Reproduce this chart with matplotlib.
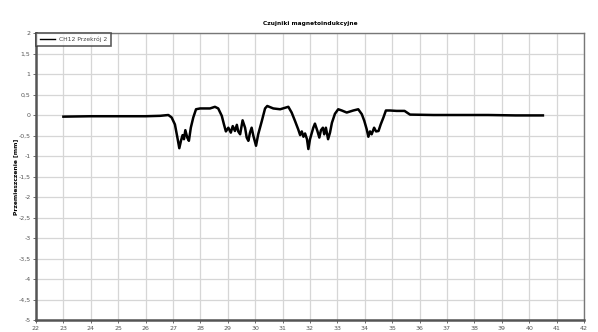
import matplotlib
matplotlib.use("Agg")
import matplotlib.pyplot as plt
import numpy as np

# odczyt z wykresu: czas [s] i przemieszczenie [mm]
czas = [23.0, 24.0, 25.0, 26.0, 26.53, 26.83, 26.95, 27.07, 27.16, 27.23, 27.29,
        27.35, 27.40, 27.45, 27.52, 27.58, 27.65, 27.74, 27.84, 27.99, 28.35,
        28.53, 28.65, 28.78, 28.86, 28.93, 29.02, 29.11, 29.18, 29.26, 29.33,
        29.38, 29.45, 29.54, 29.63, 29.69, 29.75, 29.81, 29.87, 29.93, 30.03,
        30.11, 30.24, 30.36, 30.44, 30.66, 30.91, 31.21, 31.33, 31.45, 31.57,
        31.64, 31.70, 31.76, 31.82, 31.89, 31.94, 32.00, 32.06, 32.12, 32.18,
        32.27, 32.34, 32.40, 32.47, 32.52, 32.58, 32.66, 32.73, 32.80, 32.91,
        33.03, 33.16, 33.34, 33.58, 33.76, 33.89, 33.98, 34.07, 34.13, 34.19,
        34.25, 34.34, 34.41, 34.50, 34.58, 34.68, 34.77, 34.92, 35.16, 35.45,
        35.65, 36.5, 37.5, 38.5, 39.5, 40.5]
przem = [-0.04, -0.03, -0.03, -0.03, -0.02, 0.0, -0.06, -0.23, -0.55, -0.81, -0.63,
         -0.49, -0.59, -0.37, -0.55, -0.63, -0.31, -0.06, 0.14, 0.16, 0.16,
         0.20, 0.16, -0.02, -0.23, -0.40, -0.31, -0.43, -0.27, -0.39, -0.24,
         -0.40, -0.47, -0.13, -0.31, -0.55, -0.63, -0.43, -0.31, -0.50, -0.75,
         -0.47, -0.15, 0.16, 0.22, 0.16, 0.14, 0.20, 0.06, -0.14, -0.35,
         -0.49, -0.40, -0.53, -0.45, -0.59, -0.83, -0.59, -0.45, -0.31, -0.21,
         -0.39, -0.55, -0.37, -0.31, -0.47, -0.31, -0.59, -0.43, -0.19, 0.03,
         0.14, 0.11, 0.06, 0.11, 0.14, 0.02, -0.14, -0.35, -0.53, -0.40,
         -0.47, -0.31, -0.40, -0.39, -0.23, -0.06, 0.11, 0.11, 0.10, 0.10,
         0.01, 0.0, 0.0, 0.0, -0.01, -0.01]

xticks = list(range(22, 43))
yticks = [2, 1.5, 1, 0.5, 0, -0.5, -1, -1.5, -2, -2.5, -3, -3.5, -4, -4.5, -5]

fig = plt.figure(figsize=(5.98, 3.32), dpi=100)
ax = fig.add_axes([0.0602, 0.0361, 0.9164, 0.8645])

ax.plot(czas, przem, color="black", linewidth=1.8, label="CH12 Przekrój 2")

ax.set_xlim(22, 42)
ax.set_ylim(-5, 2)
ax.set_xticks(xticks)
ax.set_yticks(yticks)
ax.set_yticklabels([("%g" % v).replace(".", ",") for v in yticks])
ax.tick_params(labelsize=4.5, colors="#555555", length=2, width=0.6, pad=2)
ax.grid(True, color="#d6d6d6", linewidth=0.9)
ax.set_axisbelow(True)

for s in ["top", "right"]:
    ax.spines[s].set_color("#777777")
    ax.spines[s].set_linewidth(1.0)
for s in ["left", "bottom"]:
    ax.spines[s].set_color("#555555")
    ax.spines[s].set_linewidth(1.8)

ax.set_title("Czujniki magnetoindukcyjne", fontsize=4.2, fontweight="bold", pad=6)
ax.set_ylabel("Przemieszczenie [mm]", fontsize=4.3, fontweight="bold", labelpad=0)

leg = ax.legend(loc="upper left", fontsize=4.3, frameon=True, fancybox=False,
                borderaxespad=0, handlelength=2.6, handletextpad=0.6, borderpad=0.6)
leg.get_frame().set_edgecolor("#333333")
leg.get_frame().set_linewidth(1.2)
for t in leg.get_texts():
    t.set_color("#444444")
for h in leg.get_lines():
    h.set_linewidth(1.0)

fig.savefig("out.png", dpi=100, facecolor="white")
